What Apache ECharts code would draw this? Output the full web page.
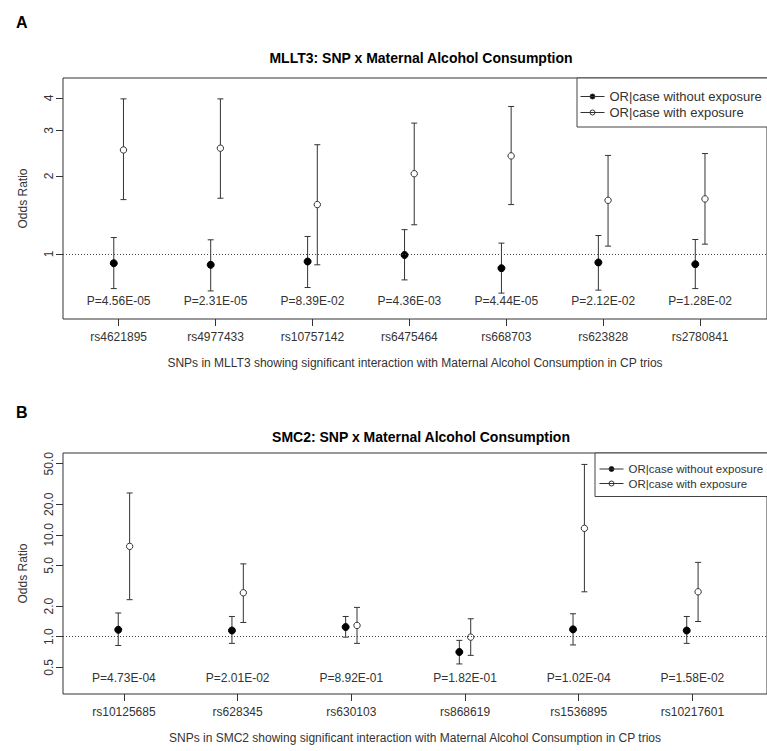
<!DOCTYPE html>
<html>
<head>
<meta charset="utf-8">
<script src="https://cdn.jsdelivr.net/npm/echarts@6.0.0/dist/echarts.min.js"></script>
<style>
  html, body { margin: 0; background: #fff; }
  #chart { width: 767px; height: 751px; }
</style>
</head>
<body>
<div id="chart"></div>
<script>
// Panel A: MLLT3
const snpsA = ['rs4621895', 'rs4977433', 'rs10757142', 'rs6475464', 'rs668703', 'rs623828', 'rs2780841'];
const pValuesA = ['P=4.56E-05', 'P=2.31E-05', 'P=8.39E-02', 'P=4.36E-03', 'P=4.44E-05', 'P=2.12E-02', 'P=1.28E-02'];
const noExpA = [0.92, 0.907, 0.934, 0.99, 0.88, 0.926, 0.912];
const noExpLowA = [0.734, 0.719, 0.741, 0.793, 0.705, 0.724, 0.734];
const noExpHighA = [1.156, 1.133, 1.167, 1.24, 1.10, 1.177, 1.136];
const expA = [2.52, 2.56, 1.55, 2.04, 2.39, 1.61, 1.63];
const expLowA = [1.62, 1.64, 0.907, 1.295, 1.55, 1.071, 1.09];
const expHighA = [3.97, 3.97, 2.64, 3.20, 3.71, 2.40, 2.44];
const yTicksA = [1, 2, 3, 4];

// Panel B: SMC2
const snpsB = ['rs10125685', 'rs628345', 'rs630103', 'rs868619', 'rs1536895', 'rs10217601'];
const pValuesB = ['P=4.73E-04', 'P=2.01E-02', 'P=8.92E-01', 'P=1.82E-01', 'P=1.02E-04', 'P=1.58E-02'];
const noExpB = [1.17, 1.15, 1.245, 0.708, 1.18, 1.15];
const noExpLowB = [0.82, 0.86, 0.99, 0.54, 0.83, 0.86];
const noExpHighB = [1.71, 1.58, 1.58, 0.92, 1.68, 1.58];
const expB = [7.71, 2.70, 1.29, 0.99, 11.6, 2.76];
const expLowB = [2.31, 1.38, 0.86, 0.656, 2.76, 1.41];
const expHighB = [25.8, 5.19, 1.94, 1.50, 49.2, 5.37];
const yTicksB = [0.5, 1, 2, 5, 10, 20, 50];

const NAME_NO = 'OR|case without exposure';
const NAME_EXP = 'OR|case with exposure';
const DODGE = 0.05;          // x-offset of the two estimates around each SNP
const FONT = 'Liberation Sans, Arial, sans-serif';
const INK = '#333';

const toRows = (mid, lo, hi) => mid.map((v, i) => [i + 1, v, lo[i], hi[i]]);

function errorBar(side, filled) {
  return function (params, api) {
    const x = api.value(0) + side * DODGE;
    const m = api.coord([x, api.value(1)]);
    const lo = api.coord([x, api.value(2)]);
    const hi = api.coord([x, api.value(3)]);
    const line = { stroke: INK, lineWidth: 1 };
    return {
      type: 'group',
      children: [
        { type: 'line', shape: { x1: lo[0], y1: lo[1], x2: hi[0], y2: hi[1] }, style: line },
        { type: 'line', shape: { x1: lo[0] - 3, y1: lo[1], x2: lo[0] + 3, y2: lo[1] }, style: line },
        { type: 'line', shape: { x1: hi[0] - 3, y1: hi[1], x2: hi[0] + 3, y2: hi[1] }, style: line },
        {
          type: 'circle',
          shape: { cx: m[0], cy: m[1], r: filled ? 3.5 : 3.2 },
          style: { fill: filled ? '#000' : '#fff', stroke: filled ? '#000' : INK, lineWidth: 1 }
        }
      ]
    };
  };
}

function pLabels(labels) {
  return function (params, api) {
    const p = api.coord([api.value(0), api.value(1)]);
    return {
      type: 'text',
      x: p[0], y: p[1],
      style: {
        text: labels[params.dataIndex],
        font: '12px ' + FONT,
        fill: INK,
        align: 'center',
        verticalAlign: 'middle'
      }
    };
  };
}

function panelSeries(idx, noExp, noLo, noHi, exp, lo, hi, pTexts, pY) {
  return [
    {
      type: 'custom', name: NAME_NO, xAxisIndex: idx, yAxisIndex: idx,
      itemStyle: { color: '#000' },
      renderItem: errorBar(-1, true),
      data: toRows(noExp, noLo, noHi),
      markLine: {
        silent: true, symbol: 'none', label: { show: false },
        lineStyle: { color: '#444', width: 1, type: [1, 2] },
        data: [{ yAxis: 1 }]
      }
    },
    {
      type: 'custom', name: NAME_EXP, xAxisIndex: idx, yAxisIndex: idx,
      itemStyle: { color: '#fff' },
      renderItem: errorBar(1, false),
      data: toRows(exp, lo, hi)
    },
    {
      type: 'custom', xAxisIndex: idx, yAxisIndex: idx, silent: true,
      renderItem: pLabels(pTexts),
      data: pTexts.map((_, i) => [i + 1, pY])
    }
  ];
}

function xAxis(idx, snps, min, max, name, nameGap) {
  const ticks = snps.map((_, i) => i + 1);
  return {
    type: 'value', gridIndex: idx, min: min, max: max,
    name: name, nameLocation: 'middle', nameGap: nameGap,
    nameTextStyle: { fontSize: 12, color: INK, fontFamily: FONT },
    axisLine: { show: false },
    axisTick: { show: true, customValues: ticks, length: 7, lineStyle: { color: INK } },
    axisLabel: {
      customValues: ticks, margin: 12, fontSize: 12, color: INK, fontFamily: FONT,
      formatter: (v) => snps[Math.round(v) - 1]
    },
    splitLine: { show: false }
  };
}

function yAxis(idx, min, max, ticks, fmt) {
  return {
    type: 'log', logBase: 10, gridIndex: idx, min: min, max: max,
    name: 'Odds Ratio', nameLocation: 'middle', nameGap: 34,
    nameTextStyle: { fontSize: 12, color: INK, fontFamily: FONT },
    axisLine: { show: false },
    axisTick: { show: true, customValues: ticks, length: 7, lineStyle: { color: INK } },
    axisLabel: {
      customValues: ticks, rotate: 90, margin: 8, fontSize: 12, color: INK, fontFamily: FONT,
      formatter: fmt
    },
    splitLine: { show: false }
  };
}

const legendIcon = 'path://M0,2.5L24,2.5M14.5,2.5A2.5,2.5 0 1 1 9.5,2.5A2.5,2.5 0 1 1 14.5,2.5Z';

function legend(left, top, fontSize, padding, gap) {
  return {
    orient: 'vertical', left: left, top: top, padding: padding, itemGap: gap,
    itemWidth: 24, itemHeight: 5, selectedMode: false,
    borderColor: '#444', borderWidth: 1, backgroundColor: '#fff',
    textStyle: { fontSize: fontSize, color: INK, fontFamily: FONT },
    data: [
      { name: NAME_NO, icon: legendIcon, itemStyle: { color: '#000', borderColor: INK, borderWidth: 1 } },
      { name: NAME_EXP, icon: legendIcon, itemStyle: { color: '#fff', borderColor: INK, borderWidth: 1 } }
    ]
  };
}

const chart = echarts.init(document.getElementById('chart'), null, { renderer: 'svg' });

chart.setOption({
  backgroundColor: '#fff',
  animation: false,
  title: [
    { text: 'A', left: 11, top: 9, textStyle: { fontSize: 16, fontWeight: 'bold', color: '#000', fontFamily: FONT } },
    { text: 'MLLT3: SNP x Maternal Alcohol Consumption', left: 416, textAlign: 'center', top: 46,
      textStyle: { fontSize: 14, fontWeight: 'bold', color: '#000', fontFamily: FONT } },
    { text: 'B', left: 11, top: 399, textStyle: { fontSize: 16, fontWeight: 'bold', color: '#000', fontFamily: FONT } },
    { text: 'SMC2: SNP x Maternal Alcohol Consumption', left: 416, textAlign: 'center', top: 425,
      textStyle: { fontSize: 14, fontWeight: 'bold', color: '#000', fontFamily: FONT } }
  ],
  legend: [
    legend(577, 78, 13, [12, 40, 8, 3], 3),
    legend(595, 453, 11.5, [10, 40, 7, 4], 2.5)
  ],
  grid: [
    { left: 63, right: -1, top: 78, height: 241, show: true, borderColor: INK, borderWidth: 1, backgroundColor: 'transparent' },
    { left: 63, right: -1, top: 453, height: 241, show: true, borderColor: INK, borderWidth: 1, backgroundColor: 'transparent' }
  ],
  xAxis: [
    xAxis(0, snpsA, 0.426, 7.69, 'SNPs in MLLT3 showing significant interaction with Maternal Alcohol Consumption in CP trios', 38),
    xAxis(1, snpsB, 0.464, 6.656, 'SNPs in SMC2 showing significant interaction with Maternal Alcohol Consumption in CP trios', 38)
  ],
  yAxis: [
    yAxis(0, 0.56, 4.78, yTicksA, (v) => String(Math.round(v))),
    yAxis(1, 0.2737, 63.7, yTicksB, (v) => v.toFixed(1))
  ],
  series: [
    ...panelSeries(0, noExpA, noExpLowA, noExpHighA, expA, expLowA, expHighA, pValuesA, 0.658),
    ...panelSeries(1, noExpB, noExpLowB, noExpHighB, expB, expLowB, expHighB, pValuesB, 0.393)
  ]
});
</script>
</body>
</html>
